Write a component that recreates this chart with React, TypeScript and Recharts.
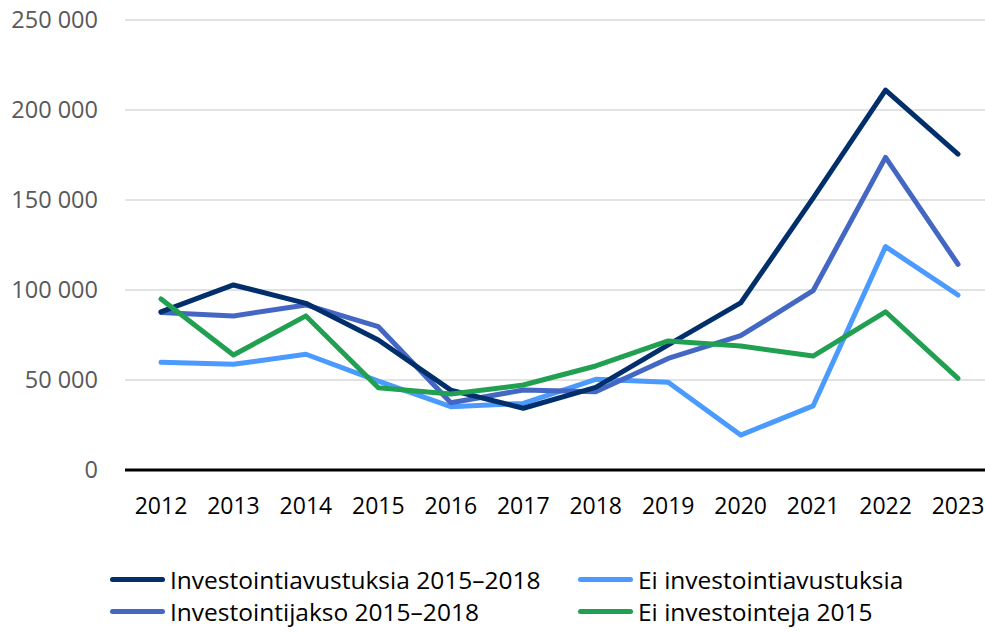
import React from 'react';
import { LineChart, Line, XAxis, YAxis, CartesianGrid, Legend } from 'recharts';

const years = ['2012', '2013', '2014', '2015', '2016', '2017', '2018', '2019', '2020', '2021', '2022', '2023'];
const investointiavustuksia = [87800, 102800, 92600, 72200, 44400, 34300, 45900, 69500, 92800, 151000, 211000, 175500];
const eiInvestointiavustuksia = [59800, 58700, 64300, 49400, 35200, 37000, 50400, 48700, 19400, 35600, 124100, 97200];
const investointijakso = [87500, 85600, 91700, 79600, 37400, 44400, 43500, 62000, 74600, 99600, 173700, 114300];
const eiInvestointeja = [95000, 63900, 85600, 45700, 42200, 47200, 57800, 71700, 68900, 63300, 87900, 50900];
const yTicks = [0, 50000, 100000, 150000, 200000, 250000];

const seriesNames = [
  'Investointiavustuksia 2015–2018',
  'Ei investointiavustuksia',
  'Investointijakso 2015–2018',
  'Ei investointeja 2015',
];
const colors = ['#002f6c', '#4a9aff', '#4467c4', '#22a052'];

const data = years.map((y, i) => ({
  year: y,
  a: investointiavustuksia[i],
  b: eiInvestointiavustuksia[i],
  c: investointijakso[i],
  d: eiInvestointeja[i],
}));

const FONT = '"Open Sans", sans-serif';

const fmt = (v: number) => String(v).replace(/\B(?=(\d{3})+(?!\d))/g, ' ');

const renderLegend = (props: any) => {
  const payload = [...(props.payload || [])].sort(
    (p: any, q: any) => seriesNames.indexOf(p.value) - seriesNames.indexOf(q.value)
  );
  return (
    <div
      style={{
        display: 'grid',
        gridTemplateColumns: '468px 400px',
        rowGap: 4,
        fontFamily: FONT,
        fontSize: 24.5,
        color: '#000',
      }}
    >
      {payload.map((p: any, i: number) => (
        <div key={i} style={{ display: 'flex', alignItems: 'center', height: 28, whiteSpace: 'nowrap' }}>
          <span
            style={{
              display: 'inline-block',
              width: 55,
              height: 5,
              borderRadius: 3,
              background: p.color,
              marginRight: 5,
            }}
          />
          <span>{p.value}</span>
        </div>
      ))}
    </div>
  );
};

export default function App() {
  return (
    <div style={{ position: 'absolute', left: 0, top: 0, width: 985, height: 632 }}>
      <LineChart
        width={985}
        height={632}
        data={data}
        margin={{ top: 20, right: 0, left: 0, bottom: 132 }}
        style={{ fontFamily: FONT }}
      >
        <CartesianGrid vertical={false} stroke="#d9d9d9" strokeWidth={1.5} />
        <XAxis
          dataKey="year"
          padding={{ left: 36, right: 27 }}
          axisLine={{ stroke: '#000', strokeWidth: 3 }}
          tickLine={false}
          tickMargin={22}
          tick={{ fill: '#000', fontSize: 23, fontFamily: FONT }}
          interval={0}
        />
        <YAxis
          width={125}
          domain={[0, 250000]}
          ticks={yTicks}
          axisLine={false}
          tickLine={false}
          tickMargin={21}
          tickFormatter={fmt}
          tick={{ fill: '#595959', fontSize: 23.5, fontFamily: FONT }}
        />
        <Legend
          layout="vertical"
          align="center"
          verticalAlign="middle"
          wrapperStyle={{ left: 110, top: 565, width: 875 }}
          content={renderLegend}
        />
        <Line type="linear" dataKey="b" name={seriesNames[1]} stroke={colors[1]} strokeWidth={5} dot={false} strokeLinecap="round" strokeLinejoin="round" isAnimationActive={false} />
        <Line type="linear" dataKey="c" name={seriesNames[2]} stroke={colors[2]} strokeWidth={5} dot={false} strokeLinecap="round" strokeLinejoin="round" isAnimationActive={false} />
        <Line type="linear" dataKey="a" name={seriesNames[0]} stroke={colors[0]} strokeWidth={5} dot={false} strokeLinecap="round" strokeLinejoin="round" isAnimationActive={false} />
        <Line type="linear" dataKey="d" name={seriesNames[3]} stroke={colors[3]} strokeWidth={5} dot={false} strokeLinecap="round" strokeLinejoin="round" isAnimationActive={false} />
      </LineChart>
    </div>
  );
}
